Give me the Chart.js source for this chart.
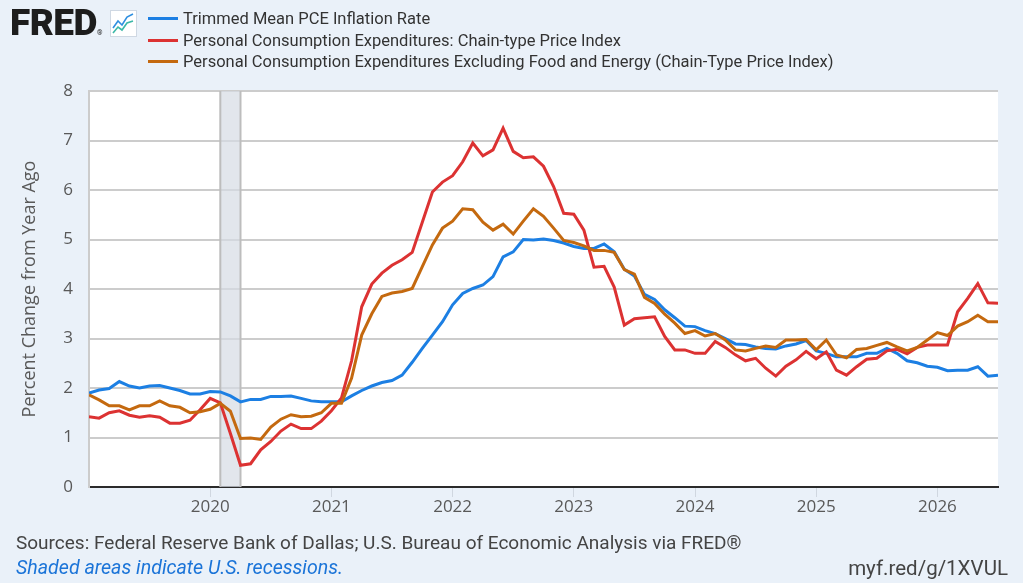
<!DOCTYPE html>
<html>
<head>
<meta charset="utf-8">
<script src="https://cdn.jsdelivr.net/npm/chart.js@4.4.1/dist/chart.umd.min.js"></script>
<style>
    html, body { margin: 0; padding: 0; }
    body {
        width: 1023px;
        height: 583px;
        background: #eaf1f9;
        position: relative;
        overflow: hidden;
        font-family: Roboto, sans-serif;
    }
    #chart { position: absolute; left: 0; top: 0; }
    .logo {
        position: absolute; left: 10px; top: 5px; white-space: nowrap;
        font: 900 37px/36px Roboto, sans-serif; letter-spacing: -0.5px; color: #1d1d1d;
    }
    .logo small { font-size: 7px; font-weight: 400; letter-spacing: 0; }
    .logo-icon { position: absolute; left: 110px; top: 10px; }
    .legend { position: absolute; left: 148px; top: 8px; }
    .legend div {
        height: 21.5px; line-height: 21.5px; font-size: 16.5px; color: #333;
        white-space: nowrap;
    }
    .legend span.sw {
        display: inline-block; width: 30px; height: 3px; vertical-align: middle;
        margin-right: 5px; position: relative; top: -1px;
    }
    .footer { position: absolute; left: 16px; font-size: 19px; line-height: 22px; color: #444; white-space: nowrap; }
    .src { top: 532px; }
    .rec { top: 557px; font-size: 19.6px; font-style: italic; color: #1b74d8; }
    .url { position: absolute; right: 15px; top: 557px; font-size: 20.5px; line-height: 22px; color: #444; }
</style>
</head>
<body>
<canvas id="chart" width="1023" height="583"></canvas>

<div class="logo">FRED<small>®</small></div>
<svg class="logo-icon" width="27" height="27" viewBox="0 0 27 27">
    <rect x="0.5" y="0.5" width="26" height="26" fill="#fff" stroke="#cfd8e3"/>
    <polyline points="3,18 8,11 12,15 17,7 23,4" fill="none" stroke="#2f8fe0" stroke-width="1.6"/>
    <polyline points="3,23 8,17 12,20 17,13 23,11" fill="none" stroke="#3cb8a8" stroke-width="1.6"/>
</svg>

<div class="legend" id="legend"></div>

<div class="footer src">Sources: Federal Reserve Bank of Dallas; U.S. Bureau of Economic Analysis via FRED®</div>
<div class="footer rec">Shaded areas indicate U.S. recessions.</div>
<div class="url">myf.red/g/1XVUL</div>

<script>
// Monthly observations, Jan 2019 .. Jul 2026
const startYear = 2019;

const trimmedMean = [
    1.90, 1.96, 1.99, 2.13, 2.04, 2.00, 2.04, 2.05, 2.00, 1.95, 1.88, 1.88,
    1.93, 1.92, 1.84, 1.72, 1.77, 1.77, 1.83, 1.83, 1.84, 1.79, 1.74, 1.72,
    1.72, 1.72, 1.84, 1.95, 2.04, 2.11, 2.15, 2.26, 2.52, 2.80, 3.07, 3.34,
    3.68, 3.91, 4.01, 4.08, 4.25, 4.65, 4.75, 5.00, 4.99, 5.01, 4.98, 4.93,
    4.86, 4.82, 4.82, 4.91, 4.75, 4.40, 4.26, 3.89, 3.79, 3.58, 3.42, 3.25,
    3.24, 3.16, 3.10, 3.00, 2.89, 2.88, 2.83, 2.80, 2.79, 2.85, 2.89, 2.96,
    2.75, 2.70, 2.63, 2.63, 2.63, 2.70, 2.70, 2.80, 2.70, 2.55, 2.51, 2.44,
    2.42, 2.35, 2.36, 2.36, 2.43, 2.24, 2.26
];

const pceHeadline = [
    1.42, 1.39, 1.50, 1.54, 1.45, 1.41, 1.44, 1.41, 1.29, 1.29, 1.35, 1.56,
    1.79, 1.70, 1.08, 0.44, 0.47, 0.75, 0.92, 1.13, 1.27, 1.18, 1.18, 1.33,
    1.54, 1.80, 2.55, 3.64, 4.10, 4.32, 4.48, 4.59, 4.74, 5.35, 5.96, 6.16,
    6.29, 6.57, 6.95, 6.69, 6.81, 7.25, 6.78, 6.65, 6.67, 6.48, 6.07, 5.53,
    5.51, 5.19, 4.44, 4.46, 4.04, 3.27, 3.40, 3.42, 3.44, 3.04, 2.77, 2.77,
    2.70, 2.70, 2.94, 2.82, 2.67, 2.55, 2.60, 2.40, 2.24, 2.44, 2.57, 2.74,
    2.59, 2.73, 2.36, 2.26, 2.43, 2.58, 2.60, 2.75, 2.78, 2.69, 2.82, 2.87,
    2.87, 2.87, 3.54, 3.81, 4.11, 3.72, 3.71
];

const pceCore = [
    1.86, 1.76, 1.64, 1.64, 1.56, 1.64, 1.64, 1.74, 1.64, 1.61, 1.50, 1.52,
    1.57, 1.69, 1.53, 0.98, 0.99, 0.96, 1.21, 1.37, 1.46, 1.42, 1.43, 1.50,
    1.69, 1.69, 2.20, 3.07, 3.50, 3.85, 3.92, 3.95, 4.01, 4.45, 4.89, 5.23,
    5.37, 5.62, 5.60, 5.35, 5.19, 5.31, 5.11, 5.37, 5.62, 5.47, 5.23, 4.98,
    4.94, 4.87, 4.78, 4.78, 4.74, 4.39, 4.30, 3.83, 3.71, 3.49, 3.31, 3.10,
    3.16, 3.05, 3.10, 2.97, 2.77, 2.75, 2.80, 2.85, 2.82, 2.97, 2.97, 2.98,
    2.77, 2.97, 2.67, 2.61, 2.78, 2.80, 2.86, 2.92, 2.83, 2.75, 2.82, 2.97,
    3.12, 3.06, 3.25, 3.34, 3.47, 3.34, 3.34
];

const seriesNames = [
    'Trimmed Mean PCE Inflation Rate',
    'Personal Consumption Expenditures: Chain-type Price Index',
    'Personal Consumption Expenditures Excluding Food and Energy (Chain-Type Price Index)'
];
const seriesColors = ['#1c7fe3', '#dc3232', '#c4690f'];

const xTickYears = [2020, 2021, 2022, 2023, 2024, 2025, 2026];
const yTicks = [0, 1, 2, 3, 4, 5, 6, 7, 8];

// NBER recession, Feb 2020 - Apr 2020 (decimal years)
const recessionStart = 2020 + 1 / 12;
const recessionEnd = 2020 + 3 / 12;

function toPoints(values) {
    return values.map((v, i) => ({ x: startYear + i / 12, y: v }));
}

// Legend (HTML so it stays real text)
const legendEl = document.getElementById('legend');
seriesNames.forEach((name, i) => {
    const row = document.createElement('div');
    row.innerHTML = '<span class="sw" style="background:' + seriesColors[i] + '"></span>' + name;
    legendEl.appendChild(row);
});

// Recession shading drawn before the lines
const recessionPlugin = {
    id: 'recession',
    beforeDatasetsDraw(chart) {
        const { ctx, chartArea, scales } = chart;
        const x0 = scales.x.getPixelForValue(recessionStart);
        const x1 = scales.x.getPixelForValue(recessionEnd);
        ctx.save();
        ctx.fillStyle = 'rgba(214, 220, 228, 0.7)';
        ctx.fillRect(x0, chartArea.top, x1 - x0, chartArea.bottom - chartArea.top);
        ctx.strokeStyle = '#bdbdbd';
        ctx.lineWidth = 2;
        ctx.beginPath();
        ctx.moveTo(x0, chartArea.top); ctx.lineTo(x0, chartArea.bottom);
        ctx.moveTo(x1, chartArea.top); ctx.lineTo(x1, chartArea.bottom);
        ctx.stroke();
        ctx.restore();
    }
};

// White plot background
const plotBgPlugin = {
    id: 'plotBg',
    beforeDraw(chart) {
        const { ctx, chartArea } = chart;
        ctx.save();
        ctx.fillStyle = '#ffffff';
        ctx.fillRect(chartArea.left, chartArea.top, chartArea.right - chartArea.left, chartArea.bottom - chartArea.top);
        ctx.restore();
    }
};

const ctx = document.getElementById('chart').getContext('2d');
new Chart(ctx, {
    type: 'line',
    data: {
        datasets: [trimmedMean, pceHeadline, pceCore].map((vals, i) => ({
            label: seriesNames[i],
            data: toPoints(vals),
            borderColor: seriesColors[i],
            borderWidth: 3,
            pointRadius: 0,
            tension: 0,
            fill: false,
            order: 2 - i
        }))
    },
    options: {
        responsive: false,
        animation: false,
        devicePixelRatio: 1,
        layout: { padding: { top: 91, right: 25, left: 0, bottom: 0 } },
        plugins: {
            legend: { display: false },
            tooltip: { enabled: false }
        },
        scales: {
            x: {
                type: 'linear',
                min: startYear,
                max: 2026.5,
                afterFit: (axis) => { axis.height = 96; },
                afterBuildTicks: (axis) => { axis.ticks = xTickYears.map(v => ({ value: v })); },
                ticks: {
                    color: '#595959',
                    font: { family: 'Open Sans', size: 17 },
                    padding: 0,
                    callback: (v) => String(v)
                },
                grid: { drawOnChartArea: false, tickLength: 10, color: '#d0d7e0', lineWidth: 1 },
                border: { color: '#2b2b2b', width: 2 }
            },
            y: {
                min: 0,
                max: 8,
                afterFit: (axis) => { axis.width = 89; },
                afterBuildTicks: (axis) => { axis.ticks = yTicks.map(v => ({ value: v })); },
                ticks: {
                    color: '#595959',
                    font: { family: 'Open Sans', size: 17 },
                    padding: 16
                },
                grid: { color: '#cccccc', lineWidth: 2, drawTicks: false },
                border: { color: '#cccccc', width: 2 },
                title: {
                    display: true,
                    text: 'Percent Change from Year Ago',
                    color: '#595959',
                    font: { family: 'Open Sans', size: 18 },
                    padding: { top: 19, bottom: 0 }
                }
            }
        }
    },
    plugins: [plotBgPlugin, recessionPlugin]
});
</script>
</body>
</html>
